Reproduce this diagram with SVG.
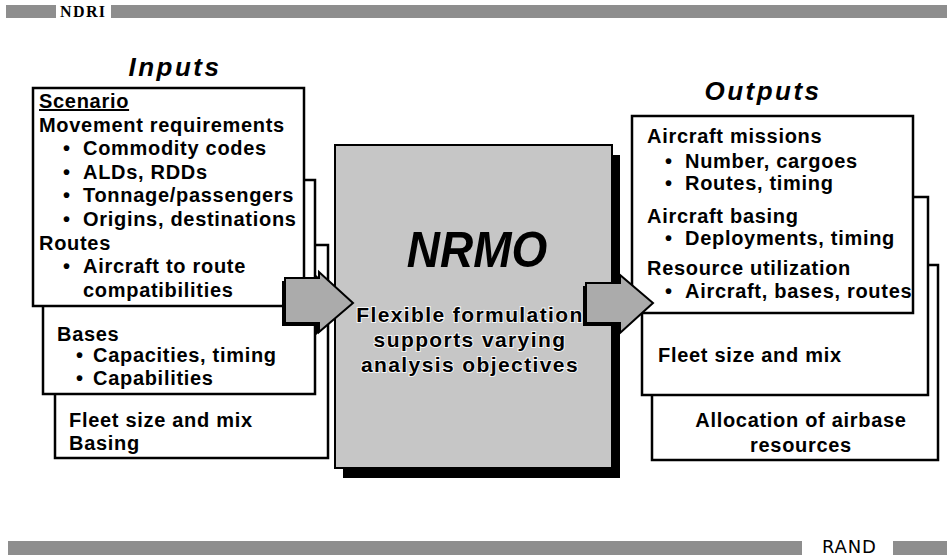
<svg xmlns="http://www.w3.org/2000/svg" width="947" height="556" viewBox="0 0 947 556">
<style>
  .bar { fill: #8e8e8e; }
  .box { fill: #ffffff; stroke: #000; stroke-width: 2.5; }
  .t { font-family: "Liberation Sans", Arial, sans-serif; font-weight: bold; font-size: 20px; letter-spacing: 0.7px; fill: #000; }
  .title { font-family: "Liberation Sans", Arial, sans-serif; font-weight: bold; font-style: italic; font-size: 26px; letter-spacing: 2.5px; fill: #000; }
  .ctr { font-family: "Liberation Sans", Arial, sans-serif; font-weight: bold; font-size: 21px; letter-spacing: 1.4px; fill: #000; text-anchor: middle; stroke: #f4f4f4; stroke-width: 2; paint-order: stroke; }
  .arrow { fill: #ababab; stroke: #000; stroke-width: 2; stroke-linejoin: miter; }
  .ashadow { fill: #000; }
</style>

<!-- header and footer bars -->
<g id="header">
  <rect class="bar" x="6" y="5" width="50" height="13"/>
  <text x="60" y="17" font-family="Liberation Serif, Times New Roman, serif" font-weight="bold" font-size="16" letter-spacing="1.4" fill="#000">NDRI</text>
  <rect class="bar" x="111" y="5" width="836" height="13"/>
</g>
<g id="footer">
  <rect class="bar" x="8" y="541" width="794" height="14"/>
  <text x="822" y="553" font-family="DejaVu Sans, sans-serif" font-size="18" letter-spacing="0.8" fill="#000">RAND</text>
  <rect class="bar" x="893" y="541" width="54" height="14"/>
</g>

<!-- Inputs -->
<g id="inputs-title">
  <text class="title" x="175" y="76" text-anchor="middle">Inputs</text>
</g>
<g id="input-fleet">
  <rect class="box" x="55" y="245" width="273" height="213"/>
  <text class="t" x="69" y="427">Fleet size and mix</text>
  <text class="t" x="69" y="450">Basing</text>
</g>
<g id="input-bases">
  <rect class="box" x="43" y="180" width="272" height="214"/>
  <text class="t" x="57" y="341">Bases</text>
  <text class="t" x="76" y="362">•</text><text class="t" x="93" y="362">Capacities, timing</text>
  <text class="t" x="76" y="385">•</text><text class="t" x="93" y="385">Capabilities</text>
</g>
<g id="input-scenario">
  <rect class="box" x="33" y="88" width="271" height="218"/>
  <text class="t" x="39" y="108" text-decoration="underline">Scenario</text>
  <text class="t" x="39" y="132">Movement requirements</text>
  <text class="t" x="63" y="155">•</text><text class="t" x="83" y="155">Commodity codes</text>
  <text class="t" x="63" y="179">•</text><text class="t" x="83" y="179">ALDs, RDDs</text>
  <text class="t" x="63" y="202">•</text><text class="t" x="83" y="202">Tonnage/passengers</text>
  <text class="t" x="63" y="226">•</text><text class="t" x="83" y="226">Origins, destinations</text>
  <text class="t" x="39" y="250">Routes</text>
  <text class="t" x="63" y="273">•</text><text class="t" x="83" y="273">Aircraft to route</text>
  <text class="t" x="83" y="297">compatibilities</text>
</g>

<!-- Center -->
<g id="nrmo">
  <rect x="343" y="155" width="277" height="323" fill="#000"/>
  <rect x="335" y="145" width="277" height="323" fill="#c6c6c6" stroke="#000" stroke-width="2"/>
  <text transform="translate(477,267) scale(1,1.1)" text-anchor="middle" font-family="Liberation Sans, Arial, sans-serif" font-weight="bold" font-style="italic" font-size="46" fill="#000">NRMO</text>
  <text class="ctr" x="470" y="322">Flexible formulation</text>
  <text class="ctr" x="470" y="347">supports varying</text>
  <text class="ctr" x="470" y="372">analysis objectives</text>
</g>

<!-- Outputs -->
<g id="outputs-title">
  <text class="title" x="763" y="100" text-anchor="middle">Outputs</text>
</g>
<g id="output-allocation">
  <rect class="box" x="652" y="265" width="286" height="195"/>
  <text class="t" x="801" y="427" text-anchor="middle">Allocation of airbase</text>
  <text class="t" x="801" y="452" text-anchor="middle">resources</text>
</g>
<g id="output-fleet">
  <rect class="box" x="642" y="197" width="286" height="198"/>
  <text class="t" x="658" y="362">Fleet size and mix</text>
</g>
<g id="output-missions">
  <rect class="box" x="632" y="116" width="281" height="197"/>
  <text class="t" x="647" y="143">Aircraft missions</text>
  <text class="t" x="665" y="168">•</text><text class="t" x="685" y="168">Number, cargoes</text>
  <text class="t" x="665" y="190">•</text><text class="t" x="685" y="190">Routes, timing</text>
  <text class="t" x="647" y="223">Aircraft basing</text>
  <text class="t" x="665" y="245">•</text><text class="t" x="685" y="245">Deployments, timing</text>
  <text class="t" x="647" y="275">Resource utilization</text>
  <text class="t" x="665" y="298">•</text><text class="t" x="685" y="298">Aircraft, bases, routes</text>
</g>

<!-- Connectors -->
<g id="connectors">
  <polygon class="ashadow" points="282,281 316,281 316,275 350,306 316,335 316,326 282,326"/>
  <polygon class="arrow" points="285,278 319,278 319,272 353,303 319,332 319,323 285,323"/>
  <polygon class="ashadow" points="583,286 617,286 617,278 650,306 617,336 617,326 583,326"/>
  <polygon class="arrow" points="586,283 620,283 620,275 653,303 620,333 620,323 586,323"/>
</g>
</svg>
